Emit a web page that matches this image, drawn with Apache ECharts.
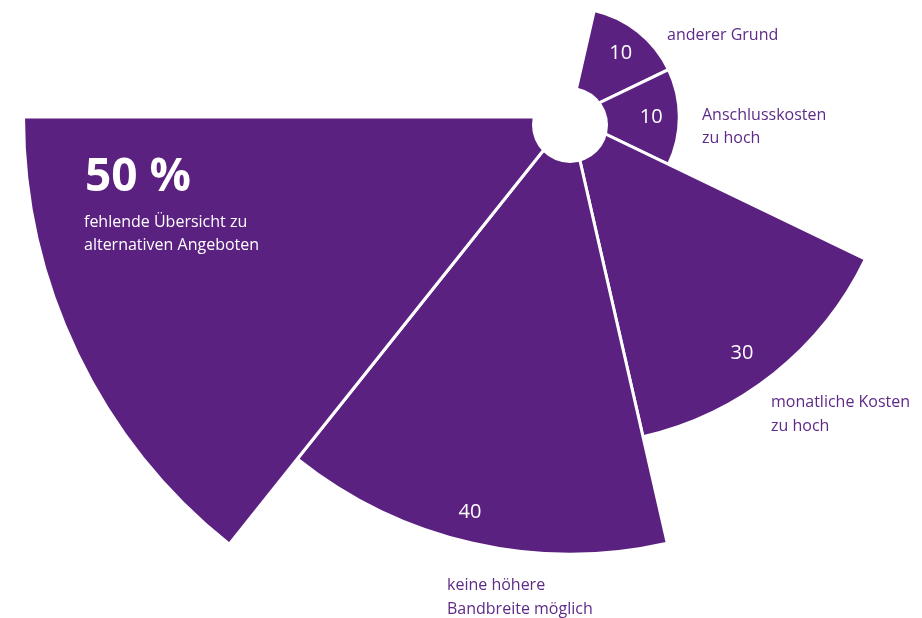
<!DOCTYPE html>
<html><head><meta charset="utf-8">
<script src="https://cdn.jsdelivr.net/npm/echarts@6/dist/echarts.min.js"></script>
<style>html,body{margin:0;padding:0;background:#fff}#chart{width:922px;height:618px}</style>
</head><body><div id="chart"></div>
<script>
// Data
const categories = ['anderer Grund', 'Anschlusskosten\nzu hoch', 'monatliche Kosten\nzu hoch', 'keine höhere\nBandbreite möglich', 'fehlende Übersicht zu\nalternativen Angeboten', 'leer1', 'leer2'];
const values = [10, 10, 30, 40, 50, '-', '-'];
const highlightIndex = 4; // the 50 % item, labelled separately

// Style
const PURPLE = '#5b2180';
const TEXT_PURPLE = '#5e2a87';
const FONT = 'Open Sans';

// label placements for outer captions (index -> [left, top])
const captionPos = { 0: [667, 24], 1: [702, 103.5], 2: [771, 391], 3: [447, 574] };
// fine offsets for inner value labels (index -> [dx, dy])
const valueLabelOffset = { 2: [-15, 2], 3: [-9, -4] };

const titles = [];
Object.keys(captionPos).forEach(function (k) {
  const i = +k;
  titles.push({
    text: categories[i], left: captionPos[i][0], top: captionPos[i][1], padding: 0,
    textStyle: { color: TEXT_PURPLE, fontFamily: FONT, fontSize: 16, fontWeight: 'normal', lineHeight: 23.4 }
  });
});
titles.push({
  text: values[highlightIndex] + ' %', left: 85, top: 155, padding: 0,
  textStyle: { color: '#fff', fontFamily: FONT, fontSize: 46, fontWeight: 'bold', lineHeight: 46 }
});
titles.push({
  text: categories[highlightIndex], left: 84, top: 210.8, padding: 0,
  textStyle: { color: '#fff', fontFamily: FONT, fontSize: 16, fontWeight: 'normal', lineHeight: 23.4 }
});

const barData = values.map(function (v, i) {
  const lbl = { show: i !== highlightIndex && v !== '-' };
  if (valueLabelOffset[i]) lbl.offset = valueLabelOffset[i];
  return { value: v, label: lbl };
});

const chart = echarts.init(document.getElementById('chart'), null, { renderer: 'canvas' });
chart.setOption({
  animation: false,
  backgroundColor: '#fff',
  title: titles,
  polar: { center: [570, 117], radius: [0, 546.5] },
  angleAxis: {
    type: 'category', data: categories, startAngle: 90 - 360 / 7 * 0.25, clockwise: true,
    boundaryGap: true,
    axisLine: { show: false }, axisTick: { show: false }, axisLabel: { show: false }, splitLine: { show: false }, splitArea: { show: false }
  },
  radiusAxis: {
    type: 'value', min: 0, max: 50,
    axisLine: { show: false }, axisTick: { show: false }, axisLabel: { show: false }, splitLine: { show: false }, splitArea: { show: false }
  },
  series: [
    {
      type: 'bar', coordinateSystem: 'polar', data: barData, barCategoryGap: '0%',
      itemStyle: { color: PURPLE, borderColor: '#fff', borderWidth: 3 },
      label: { position: 'insideEnd', distance: 28, rotate: 0, align: 'center', verticalAlign: 'middle', color: '#fff', fontFamily: FONT, fontSize: 20 }
    },
    {
      type: 'pie', center: [570, 125], radius: [0, 38], silent: true, z: 10,
      data: [{ value: 1, name: 'hole' }], label: { show: false }, labelLine: { show: false },
      itemStyle: { color: '#fff' }, emphasis: { disabled: true }
    }
  ]
});
</script>
</body></html>
